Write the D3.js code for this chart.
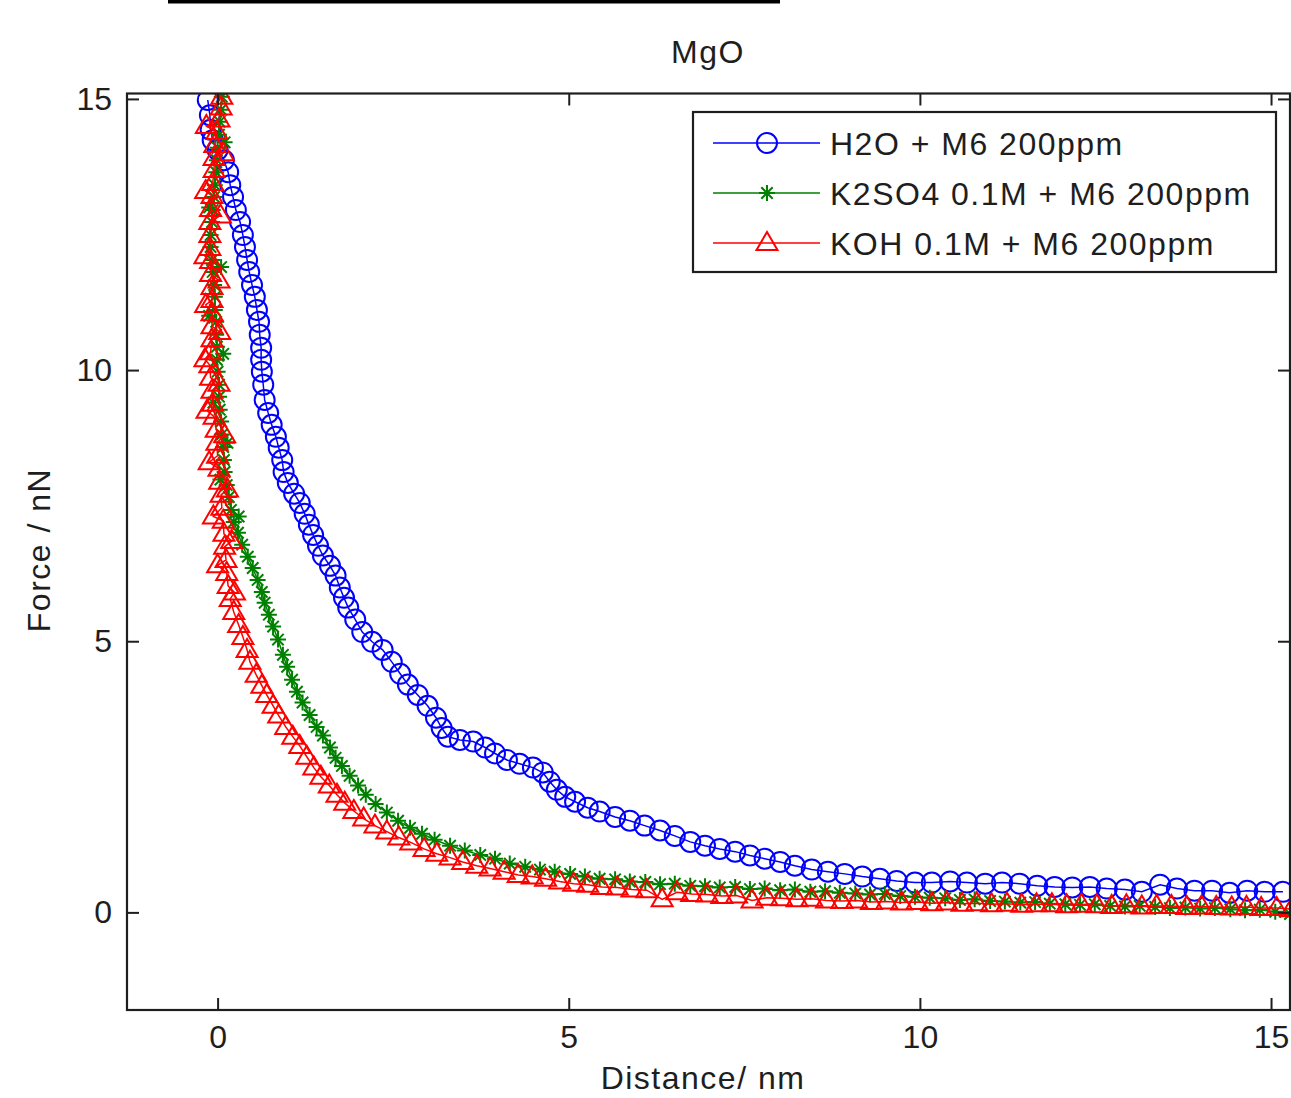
<!DOCTYPE html>
<html>
<head>
<meta charset="utf-8">
<script src="https://cdn.jsdelivr.net/npm/d3@7"></script>
<style>
body { margin: 0; background: #fff; }
text { font-family: "Liberation Sans", Arial, sans-serif; fill: #1e1e1e; }
</style>
</head>
<body>
<svg id="chart" width="1291" height="1098"></svg>
<script>
var chartTitle = "MgO"
var xLabel = "Distance/ nm"
var yLabel = "Force / nN"
var xTicks = [0, 5, 10, 15]
var yTicks = [0, 5, 10, 15]
var seriesNames = ["H2O + M6 200ppm", "K2SO4 0.1M + M6 200ppm", "KOH 0.1M + M6 200ppm"]
var seriesColors = ["#0000ff", "#008000", "#ff0000"]
var seriesMarkers = ["circle", "asterisk", "triangle"]

// [distance nm, force nN]
var h2o = [
  [-0.14,14.98],[-0.11,14.70],[-0.10,14.43],[-0.07,14.24],[0.00,14.06],[0.09,13.87],[0.15,13.65],[0.18,13.41],
  [0.22,13.19],[0.26,12.95],[0.32,12.73],[0.36,12.49],[0.39,12.27],[0.42,12.03],[0.45,11.81],[0.49,11.57],
  [0.53,11.35],[0.56,11.11],[0.59,10.89],[0.60,10.65],[0.62,10.41],[0.62,10.19],[0.63,9.97],[0.65,9.73],
  [0.67,9.45],[0.72,9.21],[0.77,8.99],[0.83,8.77],[0.87,8.57],[0.92,8.34],[0.94,8.12],[1.00,7.92],
  [1.09,7.72],[1.17,7.55],[1.24,7.35],[1.30,7.15],[1.36,6.96],[1.43,6.76],[1.50,6.58],[1.60,6.39],
  [1.68,6.21],[1.74,5.99],[1.80,5.80],[1.86,5.62],[1.96,5.40],[2.06,5.17],[2.20,4.99],[2.35,4.84],
  [2.48,4.62],[2.60,4.40],[2.71,4.20],[2.85,4.01],[2.99,3.81],[3.11,3.59],[3.19,3.40],[3.28,3.24],
  [3.45,3.18],[3.64,3.15],[3.81,3.04],[3.95,2.93],[4.12,2.81],[4.30,2.74],[4.49,2.67],[4.63,2.58],
  [4.73,2.41],[4.83,2.26],[4.95,2.13],[5.09,2.04],[5.27,1.93],[5.44,1.86],[5.66,1.76],[5.87,1.69],
  [6.08,1.60],[6.30,1.51],[6.51,1.41],[6.73,1.30],[6.94,1.23],[7.15,1.17],[7.37,1.12],[7.58,1.05],
  [7.79,0.99],[8.01,0.93],[8.22,0.86],[8.46,0.79],[8.69,0.75],[8.93,0.71],[9.18,0.66],[9.43,0.62],
  [9.67,0.58],[9.93,0.55],[10.17,0.55],[10.43,0.57],[10.67,0.55],[10.93,0.53],[11.17,0.55],[11.42,0.53],
  [11.67,0.49],[11.92,0.47],[12.17,0.46],[12.42,0.47],[12.66,0.44],[12.92,0.42],[13.16,0.38],[13.42,0.51],
  [13.66,0.44],[13.91,0.40],[14.16,0.40],[14.41,0.36],[14.66,0.40],[14.91,0.38],[15.17,0.38]
]

var k2so4 = [
  [0.06,15.04],[0.05,14.80],[0.03,14.58],[0.02,14.34],[0.10,14.20],[0.00,14.10],[-0.01,13.87],[-0.02,13.65],
  [-0.04,13.41],[-0.05,13.19],[-0.12,13.00],[-0.07,12.95],[-0.08,12.73],[-0.10,12.49],[-0.10,12.27],[-0.08,12.03],
  [0.05,11.90],[-0.07,11.81],[-0.05,11.57],[-0.04,11.35],[-0.04,11.11],[-0.12,11.00],[-0.02,10.89],[-0.02,10.65],
  [-0.01,10.43],[0.08,10.30],[-0.01,10.19],[0.00,9.97],[0.02,9.73],[0.02,9.51],[-0.06,9.40],[0.03,9.27],
  [0.05,9.05],[0.06,8.81],[0.14,8.66],[0.08,8.58],[0.09,8.34],[0.10,8.12],[0.04,7.98],[0.13,7.88],
  [0.16,7.66],[0.19,7.42],[0.30,7.30],[0.23,7.20],[0.29,7.00],[0.35,6.78],[0.43,6.56],[0.50,6.35],[0.57,6.13],
  [0.63,5.91],[0.67,5.71],[0.73,5.49],[0.79,5.27],[0.86,5.03],[0.93,4.75],[0.99,4.53],[1.06,4.29],
  [1.13,4.07],[1.21,3.87],[1.31,3.64],[1.41,3.42],[1.50,3.26],[1.60,3.04],[1.68,2.85],[1.77,2.70],
  [1.88,2.52],[2.00,2.34],[2.11,2.17],[2.25,2.00],[2.41,1.84],[2.57,1.69],[2.74,1.56],[2.91,1.45],
  [3.09,1.34],[3.31,1.23],[3.52,1.14],[3.74,1.06],[3.95,0.99],[4.16,0.90],[4.38,0.84],[4.59,0.79],
  [4.80,0.75],[5.02,0.71],[5.23,0.66],[5.44,0.62],[5.66,0.61],[5.87,0.57],[6.09,0.56],[6.30,0.52],
  [6.51,0.53],[6.73,0.49],[6.94,0.48],[7.15,0.46],[7.37,0.47],[7.58,0.43],[7.79,0.44],[8.01,0.41],
  [8.22,0.42],[8.44,0.38],[8.65,0.39],[8.86,0.36],[9.08,0.35],[9.29,0.33],[9.50,0.34],[9.72,0.30],
  [9.93,0.29],[10.14,0.27],[10.36,0.26],[10.57,0.23],[10.78,0.24],[11.00,0.21],[11.21,0.20],[11.43,0.18],
  [11.64,0.19],[11.85,0.16],[12.07,0.15],[12.28,0.14],[12.49,0.15],[12.71,0.12],[12.92,0.11],[13.13,0.12],
  [13.35,0.10],[13.56,0.08],[13.78,0.09],[13.99,0.07],[14.20,0.08],[14.42,0.06],[14.63,0.04],[14.84,0.05],
  [15.06,0.01],[15.27,-0.03]
]

var koh = [
  [0.06,15.04],[0.05,14.84],[0.02,14.62],[-0.16,14.50],[-0.01,14.39],[-0.04,14.15],[0.08,14.00],[-0.05,13.91],
  [-0.05,13.69],[-0.07,13.45],[-0.17,13.30],[-0.08,13.21],[-0.10,12.97],[0.04,12.85],[-0.11,12.73],[-0.11,12.49],
  [-0.11,12.25],[-0.18,12.10],[-0.10,12.01],[-0.10,11.77],[0.02,11.65],[-0.08,11.53],[-0.08,11.29],[-0.17,11.20],
  [-0.08,11.05],[-0.08,10.81],[0.03,10.70],[-0.08,10.57],[-0.10,10.33],[-0.18,10.20],[-0.11,10.09],[-0.10,9.86],
  [0.02,9.75],[-0.08,9.62],[-0.07,9.38],[-0.15,9.25],[-0.05,9.14],[-0.02,8.90],[0.10,8.80],[-0.01,8.66],
  [0.00,8.42],[-0.12,8.30],[0.02,8.18],[0.03,7.94],[0.14,7.80],[0.05,7.70],[0.06,7.46],[-0.06,7.30],
  [0.08,7.22],[0.09,6.98],[0.20,6.85],[0.10,6.74],[0.12,6.50],[0.00,6.40],[0.13,6.26],[0.15,6.02],
  [0.24,5.90],[0.18,5.78],
  [0.23,5.54],[0.30,5.30],[0.36,5.08],[0.42,4.84],[0.46,4.62],[0.55,4.38],[0.63,4.18],[0.70,4.01],
  [0.79,3.81],[0.87,3.63],[0.97,3.42],[1.07,3.24],[1.17,3.07],[1.27,2.87],[1.37,2.67],[1.47,2.50],
  [1.59,2.34],[1.70,2.17],[1.81,2.02],[1.94,1.87],[2.08,1.73],[2.24,1.60],[2.41,1.49],[2.58,1.38],
  [2.75,1.29],[2.94,1.17],[3.12,1.08],[3.31,1.01],[3.49,0.93],[3.69,0.86],[3.88,0.81],[4.08,0.75],
  [4.28,0.69],[4.48,0.66],[4.67,0.62],[4.87,0.57],[5.07,0.53],[5.27,0.51],[5.47,0.47],[5.69,0.46],
  [5.90,0.42],[6.11,0.41],[6.33,0.24],[6.54,0.37],[6.75,0.34],[6.97,0.33],[7.18,0.30],[7.39,0.31],
  [7.61,0.22],[7.82,0.27],[8.03,0.26],[8.25,0.24],[8.46,0.25],[8.67,0.22],[8.89,0.21],[9.10,0.22],
  [9.31,0.19],[9.53,0.20],[9.74,0.18],[9.96,0.19],[10.17,0.17],[10.38,0.18],[10.60,0.16],[10.81,0.17],
  [11.02,0.15],[11.24,0.16],[11.45,0.14],[11.66,0.15],[11.88,0.15],[12.09,0.13],[12.30,0.14],[12.52,0.13],
  [12.73,0.12],[12.94,0.13],[13.16,0.11],[13.37,0.12],[13.58,0.12],[13.80,0.10],[14.01,0.11],[14.22,0.10],
  [14.44,0.09],[14.65,0.10],[14.86,0.08],[15.08,0.08],[15.29,0.06]
]

var seriesData = [h2o, k2so4, koh]

var svg = d3.select("#chart")
var plotLeft = 127, plotRight = 1290, plotTop = 93.5, plotBottom = 1010

var xScale = d3.scaleLinear().domain([-1.29, 15.27]).range([plotLeft, plotRight])
var yScale = d3.scaleLinear().domain([-1.8, 15.1]).range([plotBottom, plotTop])

// stray rule at the very top of the figure
svg.append("line")
  .attr("x1", 168).attr("x2", 780)
  .attr("y1", 1.5).attr("y2", 1.5)
  .attr("stroke", "#000")
  .attr("stroke-width", 4)

svg.append("defs").append("clipPath")
  .attr("id", "plotClip")
  .append("rect")
  .attr("x", plotLeft).attr("y", plotTop)
  .attr("width", plotRight - plotLeft).attr("height", plotBottom - plotTop)

function markerPath(kind) {
  if (kind == "triangle") {
    return "M0,-11L10.5,7L-10.5,7Z"
  }
  if (kind == "asterisk") {
    var r = 8, d = 5.7
    return "M" + (-r) + ",0L" + r + ",0M0," + (-r) + "L0," + r +
      "M" + (-d) + "," + (-d) + "L" + d + "," + d + "M" + (-d) + "," + d + "L" + d + "," + (-d)
  }
  return null
}

function drawMarkers(g, data, kind, color, cls) {
  if (kind == "circle") {
    g.selectAll("." + cls).data(data).enter().append("circle")
      .attr("class", cls)
      .attr("cx", function (d) { return xScale(d[0]) })
      .attr("cy", function (d) { return yScale(d[1]) })
      .attr("r", 10)
      .attr("fill", "none")
      .attr("stroke", color)
      .attr("stroke-width", 2)
  } else {
    g.selectAll("." + cls).data(data).enter().append("path")
      .attr("class", cls)
      .attr("transform", function (d) {
        return "translate(" + xScale(d[0]) + "," + yScale(d[1]) + ")"
      })
      .attr("d", markerPath(kind))
      .attr("fill", "none")
      .attr("stroke", color)
      .attr("stroke-width", 2)
  }
}

var plot = svg.append("g").attr("clip-path", "url(#plotClip)")

var line = d3.line()
  .x(function (d) { return xScale(d[0]) })
  .y(function (d) { return yScale(d[1]) })

for (var s = 0; s < seriesData.length; s++) {
  var sg = plot.append("g")
  sg.append("path")
    .datum(seriesData[s])
    .attr("d", line)
    .attr("fill", "none")
    .attr("stroke", seriesColors[s])
    .attr("stroke-width", 1.5)
  drawMarkers(sg, seriesData[s], seriesMarkers[s], seriesColors[s], "mk" + s)
}

// axes, MATLAB style: box with inward ticks on all four sides
var fontSize = 32

var gx = svg.append("g")
  .attr("transform", "translate(0," + plotBottom + ")")
  .call(d3.axisBottom(xScale).tickValues(xTicks).tickSizeInner(-12).tickSizeOuter(0).tickPadding(15))
var gxTop = svg.append("g")
  .attr("transform", "translate(0," + plotTop + ")")
  .call(d3.axisTop(xScale).tickValues(xTicks).tickSizeInner(-12).tickSizeOuter(0).tickFormat(""))
var gy = svg.append("g")
  .attr("transform", "translate(" + plotLeft + ",0)")
  .call(d3.axisLeft(yScale).tickValues(yTicks).tickSizeInner(-12).tickSizeOuter(0).tickPadding(15))
var gyRight = svg.append("g")
  .attr("transform", "translate(" + plotRight + ",0)")
  .call(d3.axisRight(yScale).tickValues(yTicks).tickSizeInner(-12).tickSizeOuter(0).tickFormat(""))

;[gx, gxTop, gy, gyRight].forEach(function (g) {
  g.select(".domain").remove()
  g.selectAll(".tick line").attr("stroke", "#1e1e1e").attr("stroke-width", 2)
  g.selectAll(".tick text")
    .attr("font-size", fontSize)
    .attr("font-family", "Liberation Sans, Arial, sans-serif")
    .attr("fill", "#1e1e1e")
})

svg.append("rect")
  .attr("x", plotLeft).attr("y", plotTop)
  .attr("width", plotRight - plotLeft).attr("height", plotBottom - plotTop)
  .attr("fill", "none")
  .attr("stroke", "#1e1e1e")
  .attr("stroke-width", 2.2)

svg.append("text")
  .attr("x", 708).attr("y", 63)
  .attr("text-anchor", "middle")
  .attr("font-size", fontSize)
  .attr("letter-spacing", 1.5)
  .text(chartTitle)

svg.append("text")
  .attr("x", 703).attr("y", 1089)
  .attr("text-anchor", "middle")
  .attr("font-size", fontSize)
  .attr("letter-spacing", 1.5)
  .text(xLabel)

svg.append("text")
  .attr("transform", "translate(50,550) rotate(-90)")
  .attr("text-anchor", "middle")
  .attr("font-size", fontSize)
  .attr("letter-spacing", 1.5)
  .text(yLabel)

// legend
var legend = svg.append("g")
legend.append("rect")
  .attr("x", 693).attr("y", 112)
  .attr("width", 583).attr("height", 160)
  .attr("fill", "#fff")
  .attr("stroke", "#1e1e1e")
  .attr("stroke-width", 2.2)

for (var k = 0; k < seriesNames.length; k++) {
  var ly = 143 + k * 50
  var lg = legend.append("g")
  lg.append("line")
    .attr("x1", 713).attr("x2", 820)
    .attr("y1", ly).attr("y2", ly)
    .attr("stroke", seriesColors[k])
    .attr("stroke-width", 1.5)
  if (seriesMarkers[k] == "circle") {
    lg.append("circle")
      .attr("cx", 767).attr("cy", ly).attr("r", 10)
      .attr("fill", "none").attr("stroke", seriesColors[k]).attr("stroke-width", 2)
  } else {
    lg.append("path")
      .attr("transform", "translate(767," + ly + ")")
      .attr("d", markerPath(seriesMarkers[k]))
      .attr("fill", "none").attr("stroke", seriesColors[k]).attr("stroke-width", 2)
  }
  lg.append("text")
    .attr("x", 830).attr("y", ly)
    .attr("dy", "0.36em")
    .attr("font-size", fontSize)
    .attr("letter-spacing", 1.5)
    .text(seriesNames[k])
}
</script>
</body>
</html>
